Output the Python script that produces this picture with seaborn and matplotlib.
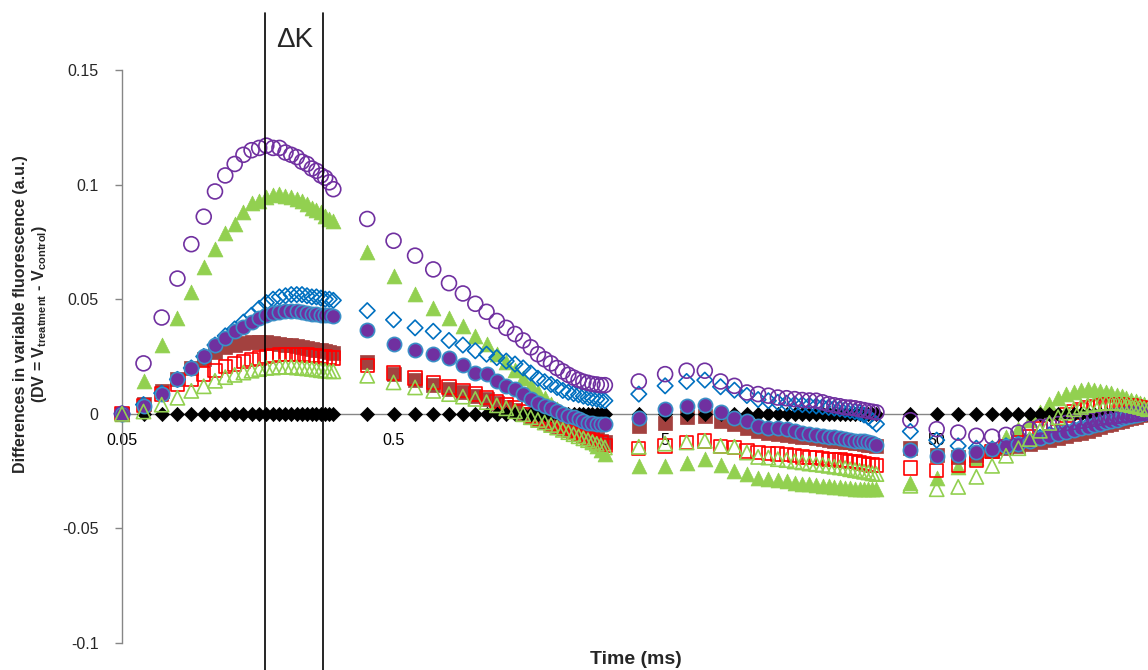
import numpy as np
import seaborn as sns
import matplotlib
matplotlib.use("Agg")
import matplotlib.pyplot as plt

# Time points (ms) of the OJIP record, as plotted
time_ms = [0.05, 0.06, 0.07, 0.08, 0.09, 0.10, 0.11, 0.12, 0.13, 0.14, 0.15, 0.16, 0.17,
           0.18, 0.19, 0.20, 0.21, 0.22, 0.23, 0.24, 0.25, 0.26, 0.27, 0.28, 0.29, 0.30,
           0.4, 0.5, 0.6, 0.7, 0.8, 0.9, 1.0, 1.1, 1.2, 1.3, 1.4, 1.5, 1.6, 1.7, 1.8, 1.9,
           2.0, 2.1, 2.2, 2.3, 2.4, 2.5, 2.6, 2.7, 2.8, 2.9, 3.0,
           4, 5, 6, 7, 8, 9, 10, 11, 12, 13, 14, 15, 16, 17, 18, 19, 20, 21, 22, 23, 24,
           25, 26, 27, 28, 29, 30,
           40, 50, 60, 70, 80, 90, 100, 110, 120, 130, 140, 150, 160, 170, 180, 190, 200,
           210, 220, 230, 240, 250, 260, 270, 280, 290, 300]

# purple open circles
dv_purple_open = [0, 0.022, 0.042, 0.059, 0.074, 0.086, 0.097, 0.104, 0.109, 0.113, 0.115, 0.116, 0.117,
                  0.116, 0.116, 0.114, 0.113, 0.112, 0.110, 0.109, 0.107, 0.106, 0.104, 0.103, 0.101, 0.098,
                  0.085, 0.0755, 0.069, 0.063, 0.057, 0.0525, 0.048, 0.0445, 0.0405, 0.0375, 0.0348, 0.032,
                  0.029, 0.026, 0.0238, 0.022, 0.020, 0.0185, 0.017, 0.0158, 0.0148, 0.014, 0.0135, 0.013,
                  0.0128, 0.0125, 0.0125,
                  0.0141, 0.0173, 0.0188, 0.0188, 0.0141, 0.0122, 0.0093, 0.0086, 0.0079, 0.0071, 0.0068,
                  0.0064, 0.006, 0.0058, 0.0057, 0.005, 0.0042, 0.0037, 0.0033, 0.0028, 0.0027, 0.0024,
                  0.002, 0.0016, 0.0012, 0.0009, 0.0006,
                  -0.0028, -0.0067, -0.0082, -0.0096, -0.010, -0.0092, -0.0082, -0.0067, -0.0057, -0.005,
                  -0.0045, -0.004, -0.0035, -0.003, -0.0026, -0.0022, -0.0018, -0.0015, -0.0012, -0.0009,
                  -0.0006, -0.0004, -0.0002, 0.0, 0.0002, 0.0004, 0.0006]

# green filled triangles
dv_green_filled = [0, 0.0144, 0.030, 0.042, 0.053, 0.064, 0.072, 0.079, 0.083, 0.088, 0.092, 0.093, 0.0945,
                   0.0955, 0.096, 0.095, 0.0945, 0.0935, 0.093, 0.0915, 0.090, 0.089, 0.088, 0.0865, 0.085, 0.084,
                   0.0704, 0.0603, 0.0523, 0.0462, 0.042, 0.0384, 0.034, 0.0304, 0.026, 0.0227, 0.019, 0.0157,
                   0.0127, 0.0097, 0.007, 0.0044, 0.002, -0.0004, -0.0026, -0.0048, -0.0068, -0.0088, -0.0107,
                   -0.0124, -0.0142, -0.0159, -0.0175,
                   -0.0227, -0.0227, -0.0213, -0.0198, -0.0223, -0.0249, -0.0263, -0.0278, -0.0285, -0.029,
                   -0.0293, -0.030, -0.0305, -0.0307, -0.031, -0.0314, -0.0315, -0.0319, -0.032, -0.0323,
                   -0.0324, -0.0326, -0.0327, -0.0328, -0.0329, -0.033, -0.033,
                   -0.030, -0.0281, -0.0231, -0.0193, -0.0147, -0.010, -0.0067, -0.0028, 0.0006, 0.0042,
                   0.0071, 0.0086, 0.0097, 0.0103, 0.0108, 0.0103, 0.0101, 0.0095, 0.0089, 0.0083, 0.0076,
                   0.0069, 0.0062, 0.0055, 0.0048, 0.0042, 0.0036]

# blue open diamonds
dv_blue_open = [0, 0.004, 0.009, 0.015, 0.020, 0.025, 0.030, 0.034, 0.037, 0.040, 0.043, 0.046, 0.0485,
                0.050, 0.051, 0.0515, 0.052, 0.052, 0.052, 0.0515, 0.051, 0.051, 0.0505, 0.050, 0.050, 0.0495,
                0.045, 0.041, 0.0375, 0.036, 0.032, 0.030, 0.0275, 0.026, 0.0245, 0.023, 0.0217, 0.020,
                0.0178, 0.0155, 0.014, 0.0128, 0.0115, 0.0102, 0.0094, 0.0088, 0.0083, 0.0077, 0.0071,
                0.0067, 0.0064, 0.006, 0.0057,
                0.0086, 0.0122, 0.0141, 0.0147, 0.0118, 0.0103, 0.008, 0.0062, 0.0057, 0.005, 0.0046,
                0.0042, 0.004, 0.0037, 0.0034, 0.0031, 0.0028, 0.0025, 0.0022, 0.0018, 0.0014, 0.001,
                0.0005, -0.0005, -0.0015, -0.003, -0.0045,
                -0.0077, -0.0115, -0.014, -0.015, -0.0154, -0.014, -0.0132, -0.0118, -0.0103, -0.0092,
                -0.0082, -0.0075, -0.0068, -0.006, -0.0052, -0.0046, -0.004, -0.0034, -0.0028, -0.0023,
                -0.0018, -0.0013, -0.0008, -0.0004, 0.0, 0.0005, 0.001]

# purple filled circles with blue edge
dv_purple_filled = [0, 0.0035, 0.0086, 0.015, 0.020, 0.025, 0.030, 0.033, 0.036, 0.038, 0.040, 0.042, 0.043,
                    0.044, 0.0445, 0.045, 0.045, 0.0448, 0.0445, 0.044, 0.0437, 0.0435, 0.0433, 0.0431, 0.043,
                    0.0428,
                    0.0366, 0.0304, 0.0278, 0.026, 0.0243, 0.0214, 0.018, 0.0173, 0.0144, 0.0122, 0.0108,
                    0.0086, 0.0064, 0.0049, 0.0035, 0.0025, 0.0013, 0.0001, -0.0009, -0.0016, -0.0023, -0.003,
                    -0.0038, -0.0042, -0.0045, -0.0045, -0.0045,
                    -0.0019, 0.002, 0.0035, 0.0039, 0.0006, -0.0019, -0.0031, -0.0052, -0.006, -0.0063,
                    -0.0067, -0.0074, -0.0082, -0.0086, -0.0092, -0.0096, -0.010, -0.0103, -0.0106, -0.011,
                    -0.0114, -0.0117, -0.0118, -0.012, -0.0125, -0.0128, -0.0135,
                    -0.0159, -0.0183, -0.0179, -0.0165, -0.0154, -0.014, -0.013, -0.0118, -0.0106, -0.0097,
                    -0.0088, -0.008, -0.0072, -0.0064, -0.0057, -0.005, -0.0043, -0.0037, -0.0031, -0.0025,
                    -0.002, -0.0015, -0.001, -0.0005, 0.0, 0.0005, 0.001]

# brown filled squares
dv_brown_filled = [0, 0.0042, 0.010, 0.015, 0.020, 0.024, 0.027, 0.029, 0.030, 0.031, 0.0315, 0.0315, 0.0315,
                   0.031, 0.0305, 0.030, 0.0298, 0.0295, 0.029, 0.0287, 0.0283, 0.028, 0.0277, 0.0273, 0.027,
                   0.0265,
                   0.0224, 0.0173, 0.0147, 0.0127, 0.0108, 0.0093, 0.0079, 0.0065, 0.0046, 0.003, 0.0015, 0.0,
                   -0.0012, -0.0025, -0.0035, -0.0045, -0.0055, -0.0063, -0.007, -0.0078, -0.0085, -0.009,
                   -0.0097, -0.0103, -0.011, -0.0117, -0.0123,
                   -0.0052, -0.0038, -0.0016, -0.0009, -0.0031, -0.0045, -0.0063, -0.0074, -0.0082, -0.0086,
                   -0.0092, -0.0096, -0.0101, -0.0103, -0.0106, -0.011, -0.0114, -0.0117, -0.012, -0.0123,
                   -0.0125, -0.0128, -0.0129, -0.0132, -0.0135, -0.0138, -0.014,
                   -0.015, -0.0179, -0.019, -0.0179, -0.0162, -0.015, -0.014, -0.0132, -0.0125, -0.0116,
                   -0.0107, -0.0098, -0.009, -0.0082, -0.0074, -0.0066, -0.0058, -0.005, -0.0043, -0.0036,
                   -0.003, -0.0024, -0.0018, -0.0012, -0.0006, 0.0, 0.0005]

# red open squares
dv_red_open = [0, 0.0036, 0.0086, 0.013, 0.0152, 0.0173, 0.019, 0.0205, 0.0217, 0.0228, 0.0237, 0.0243, 0.025,
               0.0254, 0.0258, 0.026, 0.026, 0.026, 0.0258, 0.0256, 0.0255, 0.0253, 0.025, 0.0248, 0.0245,
               0.0243,
               0.021, 0.0178, 0.0156, 0.0137, 0.0117, 0.0101, 0.0086, 0.0071, 0.0055, 0.004, 0.0025, 0.001,
               -0.0005, -0.0018, -0.003, -0.004, -0.005, -0.006, -0.007, -0.008, -0.0088, -0.0097, -0.0105,
               -0.0113, -0.012, -0.0128, -0.0137,
               -0.015, -0.014, -0.0125, -0.0118, -0.0144, -0.0147, -0.0162, -0.0169, -0.0173, -0.0176,
               -0.0179, -0.0183, -0.0188, -0.0191, -0.0192, -0.0194, -0.0198, -0.0199, -0.0202, -0.0205,
               -0.0208, -0.0209, -0.0212, -0.0217, -0.022, -0.0223, -0.0227,
               -0.0237, -0.0246, -0.0227, -0.0202, -0.0165, -0.0144, -0.0125, -0.010, -0.0065, -0.004,
               -0.002, -0.0005, 0.0008, 0.0018, 0.0026, 0.0032, 0.0036, 0.0039, 0.004, 0.004, 0.0039,
               0.0037, 0.0034, 0.003, 0.0026, 0.0022, 0.0018]

# light green open triangles
dv_green_open = [0, 0.001, 0.004, 0.007, 0.010, 0.012, 0.0144, 0.016, 0.017, 0.018, 0.0188, 0.0195, 0.020,
                 0.0202, 0.0205, 0.0205, 0.0205, 0.0202, 0.020, 0.0198, 0.0196, 0.0193, 0.019, 0.0188, 0.0186,
                 0.0185,
                 0.0166, 0.0137, 0.0115, 0.010, 0.0086, 0.0075, 0.0065, 0.0051, 0.0037, 0.0024, 0.0011,
                 -0.0002, -0.0015, -0.0027, -0.0038, -0.0049, -0.006, -0.007, -0.008, -0.0089, -0.0098,
                 -0.0107, -0.0115, -0.0123, -0.0131, -0.0139, -0.0147,
                 -0.0144, -0.013, -0.0125, -0.0118, -0.014, -0.0144, -0.0169, -0.0188, -0.0191, -0.0198,
                 -0.0202, -0.0208, -0.0212, -0.0217, -0.022, -0.0223, -0.0227, -0.0231, -0.0234, -0.0237,
                 -0.0242, -0.0246, -0.0249, -0.0253, -0.0256, -0.026, -0.0263,
                 -0.0314, -0.0329, -0.0319, -0.0275, -0.0227, -0.0183, -0.015, -0.011, -0.0074, -0.004,
                 -0.0015, 0.0005, 0.002, 0.003, 0.0038, 0.0043, 0.0046, 0.0048, 0.0048, 0.0047, 0.0045,
                 0.0042, 0.0038, 0.0034, 0.003, 0.0025, 0.002]

# control (black diamonds) sits on zero
dv_control = [0.0] * len(time_ms)

x_ticks = [0.05, 0.5, 5, 50]
x_tick_labels = ['0.05', '0.5', '5', '50']
y_ticks = [-0.1, -0.05, 0, 0.05, 0.1, 0.15]
y_tick_labels = ['-0.1', '-0.05', '0', '0.05', '0.1', '0.15']
dk_bounds = [0.168, 0.276]

sns.set_theme(style="white")
plt.rcParams['font.family'] = ['Liberation Sans', 'DejaVu Sans']
plt.rcParams['mathtext.fontset'] = 'custom'
plt.rcParams['mathtext.rm'] = 'Liberation Sans'
plt.rcParams['mathtext.bf'] = 'Liberation Sans:bold'
plt.rcParams['mathtext.default'] = 'bf'

W, H = 1148, 670
fig = plt.figure(figsize=(W / 100, H / 100), dpi=100)
ax = fig.add_axes([122 / W, 27 / H, 1026 / W, 573 / H])

# (values, marker, size, face, edge, linewidth) in drawing order
series = [
    (dv_green_filled, '^', 115, '#92D050', '#92D050', 0.5),
    (dv_brown_filled, 's', 105, '#A3413F', '#A3413F', 0.5),
    (dv_red_open, 's', 92, 'none', '#FF0000', 1.2),
    (dv_control, 'D', 52, 'black', 'black', 0.5),
    (dv_blue_open, 'D', 62, 'none', '#0070C0', 1.2),
    (dv_purple_filled, 'o', 105, '#7030A0', '#3A8FC7', 1.2),
    (dv_purple_open, 'o', 115, 'none', '#7030A0', 1.2),
    (dv_green_open, '^', 105, 'none', '#92D050', 1.2),
]
for vals, m, s, fc, ec, lw in series:
    sns.scatterplot(x=time_ms, y=vals, ax=ax, marker=m, s=s, color=ec, facecolor=fc,
                    edgecolor=ec, linewidth=lw, clip_on=False, zorder=3, legend=False)

ax.set_xscale('log')
ax.set_xlim(0.05, 300)
ax.set_ylim(-0.1, 0.15)

ax.spines['top'].set_visible(False)
ax.spines['right'].set_visible(False)
ax.spines['bottom'].set_position(('data', 0))
for sp in ['left', 'bottom']:
    ax.spines[sp].set_color('#868686')
    ax.spines[sp].set_linewidth(1.0)

ax.set_xticks(x_ticks)
ax.set_xticklabels(x_tick_labels)
ax.xaxis.set_minor_locator(matplotlib.ticker.NullLocator())
ax.set_yticks(y_ticks)
ax.set_yticklabels(y_tick_labels)
ax.tick_params(axis='x', length=0, pad=14, labelsize=11.5, colors='black')
ax.tick_params(axis='y', left=True, length=5, width=1, color='#868686', pad=12, labelsize=11.5)
ax.grid(False)

# the delta-K band
for xv in dk_bounds:
    ax.axvline(xv, ymin=-0.047, ymax=1.10, color='black', lw=1.2, clip_on=False, zorder=6)
fig.text(295 / W, 1 - 40 / H, '\u0394K', ha='center', va='center', fontsize=20)

fig.text(636 / W, 1 - 660 / H, 'Time (ms)', ha='center', va='center', fontsize=14, fontweight='bold')
fig.text(31 / W, 1 - 314 / H,
         'Differences in variable fluorescence (a.u.)\n'
         '(DV = V$_{treatment}$ - V$_{control}$)',
         rotation=90, ha='center', va='center', multialignment='center',
         fontsize=11.5, fontweight='bold', linespacing=1.15)

fig.savefig('out.png', dpi=100)
